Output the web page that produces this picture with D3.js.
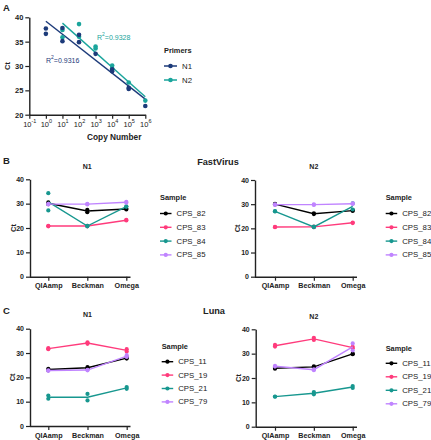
<!DOCTYPE html>
<html><head><meta charset="utf-8">
<script src="https://cdn.jsdelivr.net/npm/d3@7"></script>
<style>
html,body{margin:0;padding:0;background:#fff;}
svg{display:block;font-family:"Liberation Sans",Arial,sans-serif;}
</style></head>
<body><svg id="chart" width="431" height="440"></svg>
<script>
// ---------- DATA ----------
const copyTicks = [0.1, 1, 10, 100, 1000, 1e4, 1e5, 1e6];
const copyExponents = [-1, 0, 1, 2, 3, 4, 5, 6];
const ctTicksA = [20, 25, 30, 35, 40];
const primers = ["N1", "N2"];
const primerColors = ["#1d3b7a", "#1aa59c"];
// [copy number, Ct]
const n1Points = [[1,37.7],[1,36.6],[10,37.8],[10,35.1],[100,36.4],[100,34.9],[1000,32.5],[1e4,29.3],[1e4,28.9],[1e5,25.5],[1e5,25.3],[1e6,21.8]];
const n2Points = [[10,37.4],[10,35.9],[100,38.6],[100,36.0],[1000,34.0],[1000,33.6],[1e4,30.1],[1e4,29.5],[1e5,26.6],[1e6,22.9]];
const n1Fit = [[1,39.2],[1e6,23.2]];
const n2Fit = [[10,38.8],[1e6,23.7]];
const r2Labels = ["0.9316", "0.9328"];

const categories = ["QIAamp", "Beckman", "Omega"];
const ctTicksBC = [0, 10, 20, 30, 40];
const fastSamples = ["CPS_82", "CPS_83", "CPS_84", "CPS_85"];
const lunaSamples = ["CPS_11", "CPS_19", "CPS_21", "CPS_79"];
const sampleColors = ["#000000", "#ff3b7c", "#17978f", "#c084ff"];
// replicate Ct values: [sample][category][replicates]
const fastN1 = [
  [[30.5,29.8],[27.5,26.5],[28.0,27.6]],
  [[20.9,20.7],[20.9,20.7],[23.3,23.1]],
  [[34.3,27.2],[20.9,20.7],[28.9,28.7]],
  [[29.9,29.7],[29.9,29.7],[30.7,30.4]]
];
const fastN2 = [
  [[30.1,29.9],[26.2,25.9],[27.5,27.2]],
  [[20.6,20.5],[20.7,20.5],[22.4,22.2]],
  [[27.1,27.0],[20.7,20.5],[30.3,27.8]],
  [[29.9,29.7],[29.9,29.7],[30.3,30.1]]
];
const lunaN1 = [
  [[23.5,22.9],[24.2,23.7],[28.1,27.7]],
  [[32.0,31.6],[34.4,33.8],[31.6,30.6]],
  [[12.5,11.2],[13.2,10.5],[16.0,15.3]],
  [[22.9,22.7],[23.1,22.9],[29.1,28.4]]
];
const lunaN2 = [
  [[24.2,23.8],[24.8,24.3],[30.0,29.8]],
  [[33.6,32.9],[36.5,35.6],[32.8,32.2]],
  [[12.4,12.3],[14.2,13.3],[16.7,15.9]],
  [[25.0,24.7],[23.6,23.2],[34.2,31.3]]
];

// ---------- DRAW ----------
const svg = d3.select("#chart");
const axisColor = "#222";

function styleAxis(g, size) {
  g.selectAll("path.domain").attr("stroke", axisColor).attr("stroke-width", 1.4);
  g.selectAll(".tick line").attr("stroke", axisColor).attr("stroke-width", 1.2);
  g.selectAll(".tick text").attr("fill", "#222").attr("font-size", size || 7).attr("font-weight", "bold")
    .attr("font-family", "'Liberation Sans',Arial,sans-serif");
}

function label(x, y, txt, opts) {
  const t = svg.append("text").attr("x", x).attr("y", y).text(txt)
    .attr("font-size", opts.size || 7).attr("font-weight", opts.weight || "bold")
    .attr("fill", opts.fill || "#222").attr("text-anchor", opts.anchor || "start")
    .attr("dominant-baseline", "central");
  if (opts.rotate) t.attr("transform", `rotate(-90,${x},${y})`);
  return t;
}

// Panel letters and group titles
label(3, 7, "A", {size: 9.5});
label(3, 160, "B", {size: 9.5});
label(3, 310, "C", {size: 9.5});
label(218, 162, "FastVirus", {size: 9.2, anchor: "middle"});
label(214, 311, "Luna", {size: 9.2, anchor: "middle"});

// ---------- Panel A ----------
(function () {
  const x = d3.scaleLog().domain([0.1, 1e6]).range([29.3, 145.3]);
  const y = d3.scaleLinear().domain([20, 40]).range([114.7, 17.3]);
  const ga = svg.append("g");
  const yAx = ga.append("g").attr("transform", `translate(${x(0.1)},0)`)
    .call(d3.axisLeft(y).tickValues(ctTicksA).tickSize(4).tickSizeOuter(0).tickPadding(2));
  styleAxis(yAx, 7.5);
  const xAx = ga.append("g").attr("transform", `translate(0,${y(20)})`)
    .call(d3.axisBottom(x).tickValues(copyTicks).tickSize(4).tickSizeOuter(0).tickPadding(2).tickFormat(""));
  styleAxis(xAx);
  xAx.selectAll(".tick").each(function (d, i) {
    const t = d3.select(this).select("text").text(null).attr("dy", null).attr("y", 12.3)
      .attr("dominant-baseline", "auto").attr("font-weight", "normal").attr("font-size", 7.5);
    t.append("tspan").text("10");
    t.append("tspan").attr("font-size", 5.5).attr("dy", -3.5).text(copyExponents[i]);
  });
  label(87, 137, "Copy Number", {size: 8.3});
  label(7, 66, "Ct", {size: 7.5, rotate: true, anchor: "middle"});

  const fits = [n1Fit, n2Fit];
  const pts = [n1Points, n2Points];
  const line = d3.line().x(d => x(d[0])).y(d => y(d[1]));
  fits.forEach((f, i) => {
    ga.append("path").attr("d", line(f)).attr("fill", "none")
      .attr("stroke", primerColors[i]).attr("stroke-width", 1.4);
  });
  [1, 0].forEach(i => {
    ga.selectAll(null).data(pts[i]).enter().append("circle")
      .attr("cx", d => x(d[0])).attr("cy", d => y(d[1])).attr("r", 2.3)
      .attr("fill", primerColors[i]);
  });
  const r1 = label(46, 60, "", {size: 7, weight: "normal", fill: primerColors[0]});
  r1.append("tspan").text("R");
  r1.append("tspan").attr("font-size", 5).attr("dy", -3).text("2");
  r1.append("tspan").attr("dy", 3).text("=" + r2Labels[0]);
  const r2 = label(97, 37, "", {size: 7, weight: "normal", fill: primerColors[1]});
  r2.append("tspan").text("R");
  r2.append("tspan").attr("font-size", 5).attr("dy", -3).text("2");
  r2.append("tspan").attr("dy", 3).text("=" + r2Labels[1]);

  // legend
  label(164, 50, "Primers", {size: 7.4});
  primers.forEach((p, i) => {
    const yy = 66 + i * 14;
    ga.append("line").attr("x1", 164).attr("x2", 177).attr("y1", yy).attr("y2", yy)
      .attr("stroke", primerColors[i]).attr("stroke-width", 1.5);
    ga.append("circle").attr("cx", 170.5).attr("cy", yy).attr("r", 2.3).attr("fill", primerColors[i]);
    label(182, yy, p, {size: 7.8, weight: "normal"});
  });
})();

// ---------- Panels B and C ----------
function linePanel(cfg, data, samples, title) {
  const y = d3.scaleLinear().domain([0, 40]).range([cfg.y0, cfg.y40]);
  const x = d3.scalePoint().domain(categories).range([cfg.c0, cfg.c2]);
  const g = svg.append("g");
  const yAx = g.append("g").attr("transform", `translate(${cfg.ax},0)`)
    .call(d3.axisLeft(y).tickValues(ctTicksBC).tickSize(4).tickSizeOuter(0).tickPadding(2));
  styleAxis(yAx, 7);
  const xAx = g.append("g").attr("transform", `translate(0,${cfg.y0})`)
    .call(d3.axisBottom(x).tickSize(4).tickSizeOuter(0).tickPadding(2.5));
  xAx.select("path.domain").attr("d", `M${cfg.ax},0.5H${cfg.xend}`);
  styleAxis(xAx, 7.2);
  label(cfg.ax - 17, (cfg.y0 + cfg.y40) / 2, "Ct", {size: 7.5, rotate: true, anchor: "middle"});
  label((cfg.c0 + cfg.c2) / 2, cfg.titleY, title, {size: 7, anchor: "middle"});

  const line = d3.line().x((d, i) => x(categories[i])).y(d => y(d3.mean(d)));
  data.forEach((series, si) => {
    const col = sampleColors[si];
    g.append("path").attr("d", line(series)).attr("fill", "none")
      .attr("stroke", col).attr("stroke-width", 1.4);
    series.forEach((reps, ci) => {
      g.selectAll(null).data(reps).enter().append("circle")
        .attr("cx", x(categories[ci])).attr("cy", d => y(d)).attr("r", 2.1).attr("fill", col);
    });
  });

  // legend
  label(cfg.lx, cfg.ly, "Sample", {size: 7.4});
  samples.forEach((s, i) => {
    const yy = cfg.ly + cfg.lgap0 + i * cfg.lgap;
    g.append("line").attr("x1", cfg.lx).attr("x2", cfg.lx + 11.5).attr("y1", yy).attr("y2", yy)
      .attr("stroke", sampleColors[i]).attr("stroke-width", 1.4);
    g.append("circle").attr("cx", cfg.lx + 5.75).attr("cy", yy).attr("r", 2.1).attr("fill", sampleColors[i]);
    label(cfg.lx + 16.5, yy, s, {size: 7.8, weight: "normal"});
  });
}

linePanel({ax: 30, y0: 276.7, y40: 179.3, c0: 48.3, c2: 126.3, xend: 130.5, titleY: 166,
  lx: 160, ly: 197, lgap0: 16.5, lgap: 13.8}, fastN1, fastSamples, "N1");
linePanel({ax: 255, y0: 276.7, y40: 180, c0: 275, c2: 352.7, xend: 357, titleY: 166,
  lx: 385.7, ly: 197.5, lgap0: 16, lgap: 13.8}, fastN2, fastSamples, "N2");
linePanel({ax: 30, y0: 426, y40: 328.7, c0: 48.3, c2: 126.7, xend: 130.5, titleY: 314,
  lx: 161.7, ly: 346, lgap0: 15.7, lgap: 13.4}, lunaN1, lunaSamples, "N1");
linePanel({ax: 255.7, y0: 426.7, y40: 329.3, c0: 275, c2: 352.7, xend: 357, titleY: 316,
  lx: 385.7, ly: 348.3, lgap0: 15, lgap: 13.5}, lunaN2, lunaSamples, "N2");
</script>
</body></html>
